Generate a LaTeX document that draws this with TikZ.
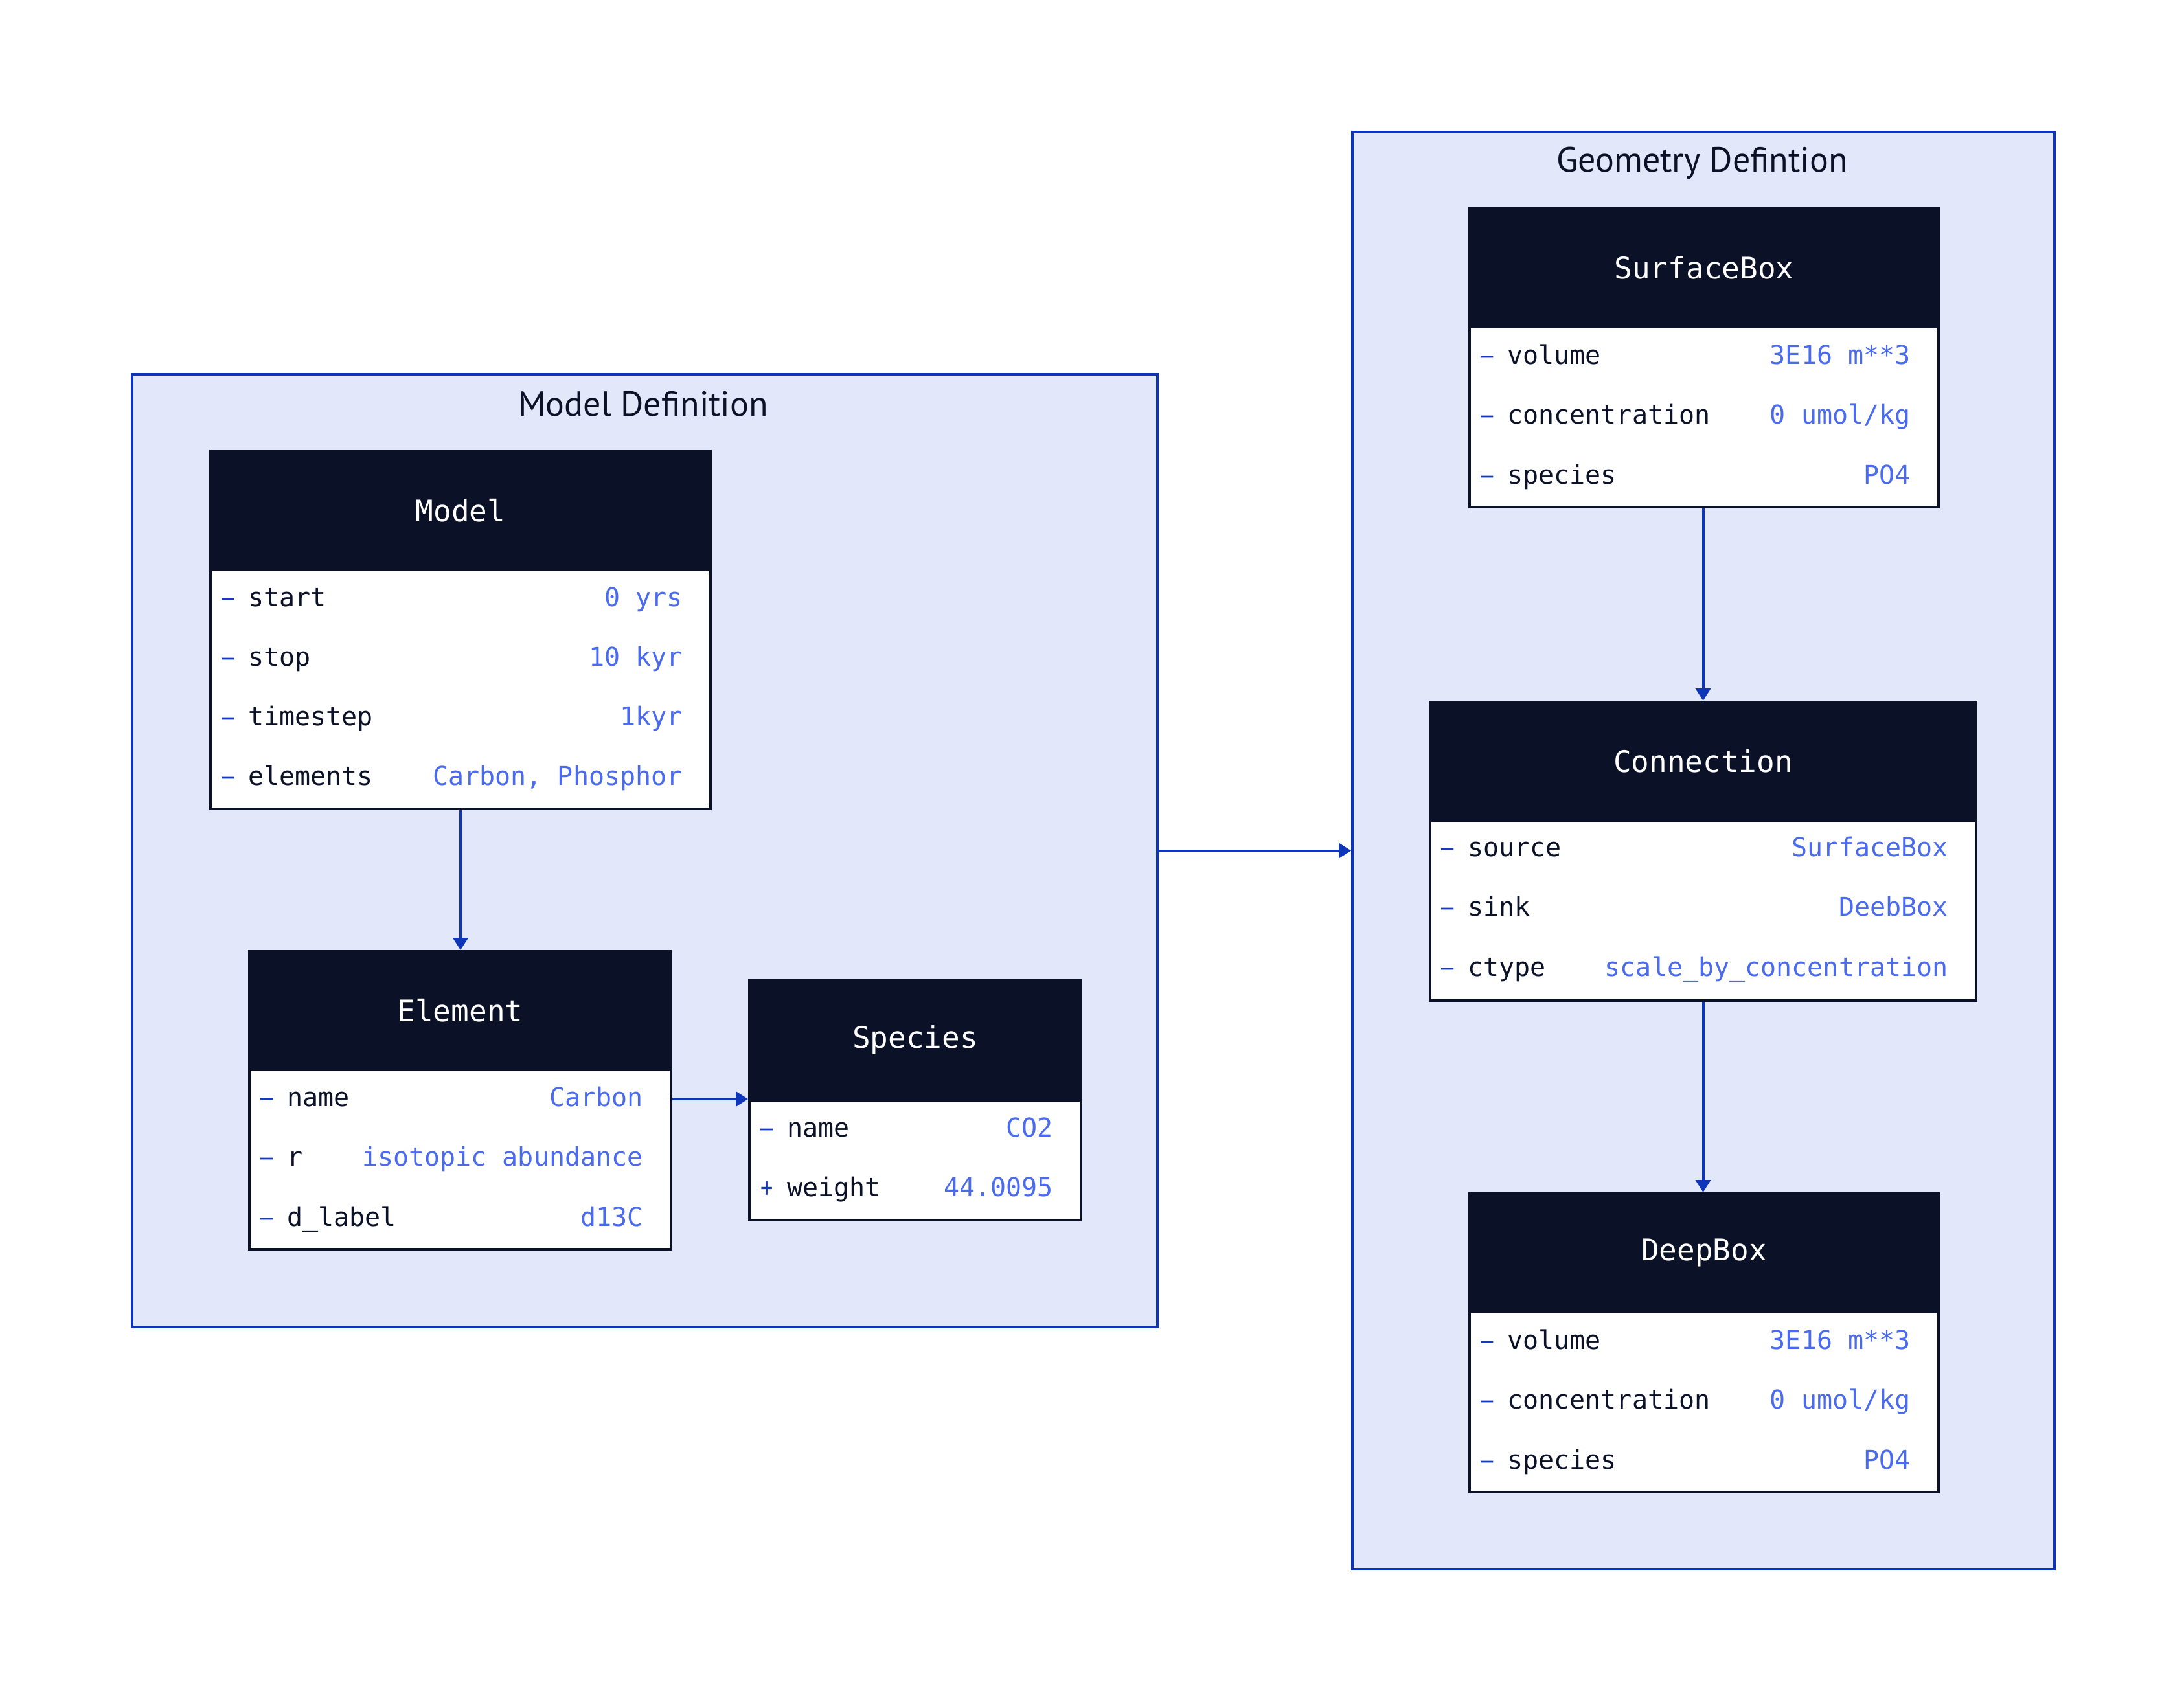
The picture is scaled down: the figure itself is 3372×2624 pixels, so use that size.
\documentclass[tikz,border=0pt]{standalone}
\usepackage{fontspec}
\setmainfont{PT Sans}
\setmonofont{DejaVu Sans Mono}
\usetikzlibrary{arrows.meta}
\definecolor{clfill}{HTML}{E2E8FA}
\definecolor{clline}{HTML}{1034B9}
\definecolor{hdrfill}{HTML}{0B1127}
\definecolor{valcol}{HTML}{4B6BEE}
\definecolor{mkcol}{HTML}{1539C4}
\definecolor{arrcol}{HTML}{0F35B8}
\tikzset{
  cluster/.style={draw=clline, fill=clfill, line width=2pt, rectangle, inner sep=0pt, anchor=north west},
  hdr/.style={fill=hdrfill, draw=hdrfill, line width=2pt, text=white, font=\ttfamily\fontsize{23}{28}\selectfont, anchor=north west, inner sep=0pt, minimum height=91.5pt},
  body/.style={fill=white, draw=hdrfill, line width=2pt, anchor=north west, inner sep=0pt},
  rowtxt/.style={font=\ttfamily\fontsize{20}{24}\selectfont, inner sep=0pt, text height=17.5pt, text depth=4pt},
  mk/.style={rowtxt, text=mkcol, anchor=west},
  key/.style={rowtxt, text=hdrfill, anchor=west},
  val/.style={rowtxt, text=valcol, anchor=east},
  arr/.style={draw=arrcol, line width=2pt, -{Triangle[length=9.5pt,width=11.5pt]}},
  cltitle/.style={font=\fontsize{27}{32}\selectfont, text=hdrfill, inner sep=0pt}
}
\newcommand\crow[7]{%
  \node[mk] (#1m) at (#2+19,#4) {\scalebox{0.8}[1]{#5}};
  \node[key] (#1k) at (#2+60,#4) {#6};
  \node[val] (#1v) at (#3-41,#4) {#7};
}
\begin{document}
\begin{tikzpicture}[x=0.5pt,y=-0.5pt]
\useasboundingbox[fill=white] (0,0) rectangle (3372,2624);
% clusters
\node[cluster, minimum width=791.5pt, minimum height=735.5pt] (mdef) at (202,576) {};
\node[cluster, minimum width=542pt, minimum height=1109.5pt] (gdef) at (2086,202) {};
\node[cltitle] (mdeft) at (993,624) {Model Definition};
\node[cltitle] (gdeft) at (2628,252) {Geometry Defintion};
% Model
\node[hdr, minimum width=386pt] (mh) at (323,695) {Model};
\node[body, minimum width=386pt, minimum height=185pt] (mb) at (323,877) {};
\crow{ma}{323}{1095}{923}{–}{start}{0 yrs}
\crow{mbb}{323}{1095}{1015}{–}{stop}{10 kyr}
\crow{mc}{323}{1095}{1107}{–}{timestep}{1kyr}
\crow{md}{323}{1095}{1199}{–}{elements}{Carbon, Phosphor}
% Element
\node[hdr, minimum width=325.5pt] (eh) at (383,1467) {Element};
\node[body, minimum width=325.5pt, minimum height=139pt] (eb) at (383,1649) {};
\crow{ea}{383}{1034}{1695}{–}{name}{Carbon}
\crow{ebb}{383}{1034}{1787}{–}{r}{isotopic abundance}
\crow{ec}{383}{1034}{1880}{–}{d\_label}{d13C}
% Species
\node[hdr, minimum width=256pt] (sh) at (1155,1512) {Species};
\node[body, minimum width=256pt, minimum height=92.5pt] (sb) at (1155,1697) {};
\crow{sa}{1155}{1667}{1742}{–}{name}{CO2}
\crow{sbb}{1155}{1667}{1834}{+}{weight}{44.0095}
% SurfaceBox
\node[hdr, minimum width=362pt] (ubh) at (2267,320) {SurfaceBox};
\node[body, minimum width=362pt, minimum height=139pt] (ubb) at (2267,503) {};
\crow{ua}{2267}{2991}{549}{–}{volume}{3E16 m**3}
\crow{ub}{2267}{2991}{641}{–}{concentration}{0 umol/kg}
\crow{uc}{2267}{2991}{734}{–}{species}{PO4}
% Connection
\node[hdr, minimum width=421.5pt] (ch) at (2206,1082) {Connection};
\node[body, minimum width=421.5pt, minimum height=139pt] (cb) at (2206,1265) {};
\crow{ca}{2206}{3049}{1309}{–}{source}{SurfaceBox}
\crow{cbb}{2206}{3049}{1401}{–}{sink}{DeebBox}
\crow{cc}{2206}{3049}{1494}{–}{ctype}{scale\_by\_concentration}
% DeepBox
\node[hdr, minimum width=362pt] (dh) at (2267,1841) {DeepBox};
\node[body, minimum width=362pt, minimum height=139pt] (db) at (2267,2024) {};
\crow{da}{2267}{2991}{2070}{–}{volume}{3E16 m**3}
\crow{dbb}{2267}{2991}{2162}{–}{concentration}{0 umol/kg}
\crow{dc}{2267}{2991}{2255}{–}{species}{PO4}
% arrows
\draw[arr] (mb.south) -- (mb.south |- eh.north);
\draw[arr] (sb.north west -| eb.east) -- (sb.north west);
\draw[arr] (mdef.east) -- (gdef.west);
\draw[arr] (ch.north |- ubb.south) -- (ch.north);
\draw[arr] (cb.south) -- (cb.south |- dh.north);
\end{tikzpicture}
\end{document}
